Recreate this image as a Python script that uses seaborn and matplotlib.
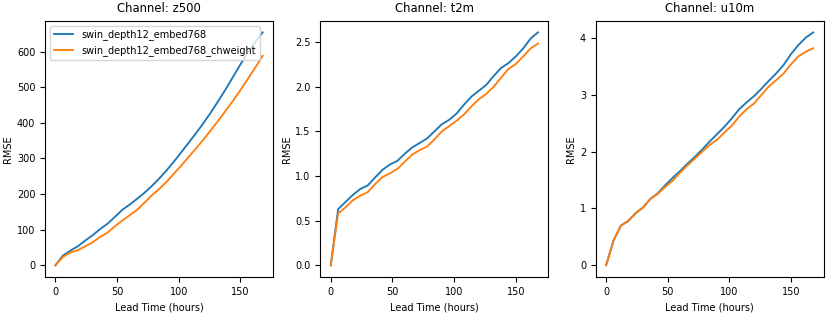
import pandas as pd
from matplotlib import pyplot as plt
from matplotlib.ticker import MultipleLocator
import seaborn as sns

lead_hours = list(range(0, 169, 6))
models = ["swin_depth12_embed768", "swin_depth12_embed768_chweight"]
channels = ["z500", "t2m", "u10m"]

z500_base = [0, 27, 41, 53, 69, 84, 101, 116, 135, 155, 170, 186, 203, 222, 243,
             266, 291, 317, 344, 371, 399, 429, 461, 494, 529, 564, 598, 627, 654]
z500_chw = [0, 23, 36, 42, 53, 64, 79, 91, 109, 125, 140, 155, 175, 196, 214,
            234, 257, 280, 304, 328, 353, 379, 406, 434, 462, 492, 523, 555, 588]
t2m_base = [0, 0.63, 0.71, 0.79, 0.855, 0.895, 0.985, 1.07, 1.13, 1.17, 1.25, 1.32,
            1.37, 1.42, 1.50, 1.58, 1.63, 1.70, 1.80, 1.89, 1.955, 2.02, 2.12, 2.21,
            2.265, 2.34, 2.43, 2.54, 2.61]
t2m_chw = [0, 0.58, 0.65, 0.73, 0.78, 0.82, 0.91, 0.99, 1.03, 1.08, 1.16, 1.24,
           1.29, 1.33, 1.41, 1.50, 1.56, 1.62, 1.69, 1.78, 1.86, 1.92, 2.00, 2.10,
           2.20, 2.255, 2.34, 2.43, 2.485]
u10m_base = [0, 0.435, 0.70, 0.78, 0.92, 1.02, 1.17, 1.27, 1.41, 1.54, 1.66, 1.79,
             1.91, 2.04, 2.18, 2.31, 2.44, 2.59, 2.75, 2.87, 2.98, 3.11, 3.25, 3.38,
             3.53, 3.72, 3.88, 4.01, 4.10]
u10m_chw = [0, 0.435, 0.70, 0.78, 0.92, 1.02, 1.17, 1.26, 1.38, 1.49, 1.63, 1.76,
            1.88, 2.00, 2.12, 2.21, 2.34, 2.46, 2.62, 2.75, 2.85, 3.00, 3.15, 3.26,
            3.38, 3.54, 3.68, 3.76, 3.82]

values = {
    "z500": [z500_base, z500_chw],
    "t2m": [t2m_base, t2m_chw],
    "u10m": [u10m_base, u10m_chw],
}

rows = []
for ch in channels:
    for model, series in zip(models, values[ch]):
        for h, v in zip(lead_hours, series):
            rows.append({"channel": ch, "model": model, "lead": h, "rmse": v})
df = pd.DataFrame(rows)

plt.rcParams["font.size"] = 7
fig, axes = plt.subplots(1, 3, figsize=(8.31, 3.14), dpi=100)
fig.subplots_adjust(left=0.0542, right=0.9912, top=0.934, bottom=0.118, wspace=0.208)

for i, (ax, ch) in enumerate(zip(axes, channels)):
    sns.lineplot(
        data=df[df["channel"] == ch],
        x="lead",
        y="rmse",
        hue="model",
        palette=["#1f77b4", "#ff7f0e"],
        linewidth=1.35,
        ax=ax,
        legend=(i == 0),
    )
    ax.set_title(f"Channel: {ch}", fontsize=8.4)
    ax.set_xlabel("Lead Time (hours)")
    ax.set_ylabel("RMSE", labelpad=2.5)
    ax.xaxis.set_major_locator(MultipleLocator(50))

axes[0].legend(loc="upper left", fontsize=7)

plt.savefig("out.png")
